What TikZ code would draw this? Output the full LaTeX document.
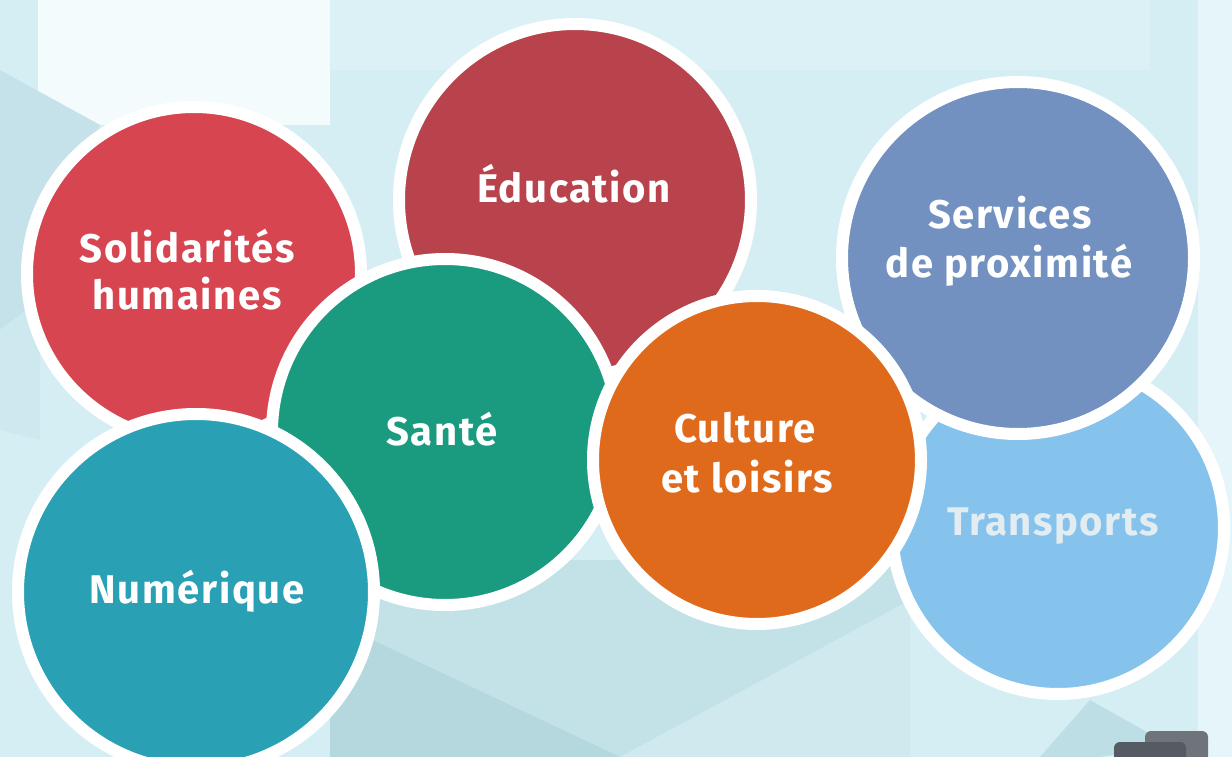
\documentclass[tikz,border=0pt]{standalone}
\usepackage{fontspec}
\setmainfont{Fira Sans}
\definecolor{bgbase}{RGB}{213,238,244}
\definecolor{bgwhite}{RGB}{244,251,252}
\definecolor{bgtop}{RGB}{220,241,246}
\definecolor{bgleftA}{RGB}{197,226,234}
\definecolor{bgleftB}{RGB}{206,232,239}
\definecolor{bgright}{RGB}{230,245,249}
\definecolor{bgbotA}{RGB}{194,226,232}
\definecolor{bgbotB}{RGB}{181,216,223}
\definecolor{bgbotC}{RGB}{207,233,239}
\definecolor{bgbotD}{RGB}{190,222,229}
\definecolor{grayA}{RGB}{110,116,122}
\definecolor{grayB}{RGB}{85,91,98}
\definecolor{cSol}{RGB}{214,69,80}
\definecolor{cEdu}{RGB}{184,67,76}
\definecolor{cSan}{RGB}{26,154,126}
\definecolor{cNum}{RGB}{42,160,181}
\definecolor{cTra}{RGB}{134,195,236}
\definecolor{cSer}{RGB}{114,144,192}
\definecolor{cCul}{RGB}{224,106,27}
\definecolor{traText}{RGB}{226,236,241}
\begin{document}
\begin{tikzpicture}[x=1pt,y=-1pt,
  bubble/.style={fill=#1, draw=white, line width=12pt},
  lbl/.style={text=white, font=\fontsize{40}{48}\selectfont\bfseries\addfontfeatures{LetterSpace=4}, anchor=base, inner sep=0pt}]
\useasboundingbox (0,0) rectangle (1232,757);
% background
\fill[bgbase] (0,0) rectangle (1232,757);
\fill[bgwhite] (38,0) rectangle (330,125);
\fill[bgtop] (330,0) rectangle (1150,70);
\fill[bgleftA] (0,70) -- (100,125) -- (40,300) -- (0,330) -- cycle;
\fill[bgleftB] (0,330) -- (40,300) -- (40,440) -- (0,430) -- cycle;
\fill[bgright] (1198,0) rectangle (1232,757);
\fill[bgbotA] (330,560) rectangle (910,757);
\fill[bgbotB] (330,620) -- (620,757) -- (330,757) -- cycle;
\fill[bgbotC] (620,757) -- (910,600) -- (910,757) -- cycle;
\fill[bgbotD] (1090,700) -- (1170,745) -- (1100,757) -- (1040,757) -- cycle;
% gray object bottom right
\fill[grayA, rounded corners=6pt] (1145,731) rectangle (1208,762);
\fill[grayB, rounded corners=6pt] (1114,742) rectangle (1186,770);
% circles (bottom to top)
\draw[bubble=cSol] (194,274) circle (167) node (sol) {};
\draw[bubble=cEdu] (575,200) circle (176) node (edu) {};
\draw[bubble=cSan] (445,432) circle (173) node (san) {};
\draw[bubble=cNum] (196,592) circle (178) node (num) {};
\draw[bubble=cTra] (1058,528) circle (166) node (tra) {};
\draw[bubble=cSer] (1018,258) circle (176) node (ser) {};
\draw[bubble=cCul] (757,460) circle (164) node (cul) {};
% labels
\node[lbl] (t1a) at (187,262) {Solidarités};
\node[lbl] (t1b) at (187,309) {humaines};
\node[lbl] (t2) at (574,203) {Éducation};
\node[lbl] (t3a) at (1010,228) {Services};
\node[lbl] (t3b) at (1009,277) {de proximité};
\node[lbl] (t4) at (442,445) {Santé};
\node[lbl] (t5a) at (745,442) {Culture};
\node[lbl] (t5b) at (747,492) {et loisirs};
\node[lbl, text=traText] (t6) at (1053,535) {Transports};
\node[lbl] (t7) at (197,603) {Numérique};
\end{tikzpicture}
\end{document}
